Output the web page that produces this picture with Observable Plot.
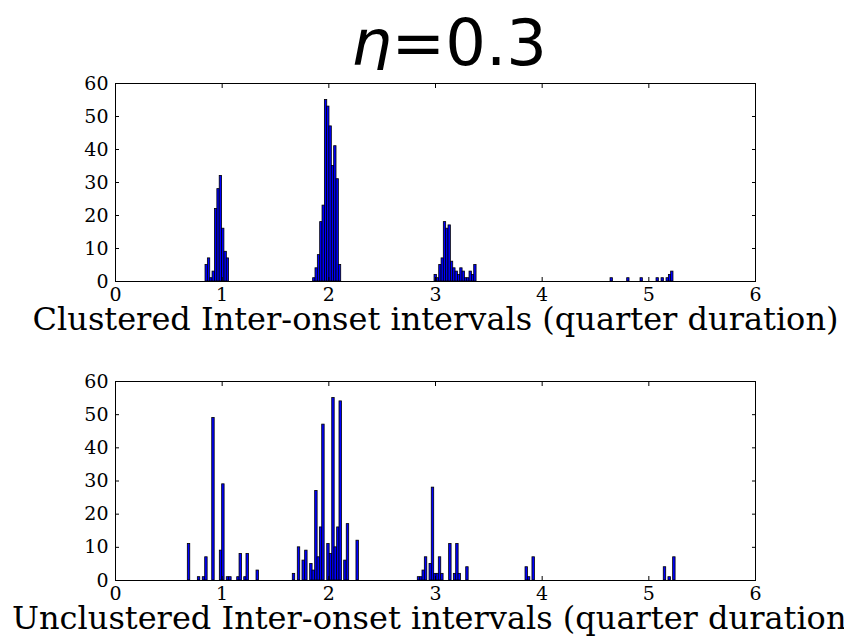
<!DOCTYPE html>
<html><head><meta charset="utf-8">
<script src="https://cdn.jsdelivr.net/npm/d3@7"></script>
<script src="https://cdn.jsdelivr.net/npm/@observablehq/plot@0.6"></script>
<style>
html,body{margin:0;padding:0;background:#fff;width:844px;height:636px;overflow:hidden;}
#wrap{position:relative;width:844px;height:636px;overflow:hidden;}
#title{position:absolute;left:351px;top:11px;font-family:"DejaVu Sans";font-size:64px;line-height:64px;white-space:nowrap;color:#000;}
#p1{position:absolute;left:0;top:70px;}
#p2{position:absolute;left:0;top:340px;}
</style>
</head><body>
<div id="wrap">
<div id="title"><i>η</i>=0.3</div>
<div id="p1"></div>
<div id="p2"></div>
</div>
<script>
// ---- data ----
const titleText = "η=0.3";
const topLabel = "Clustered Inter-onset intervals (quarter duration)";
const bottomLabel = "Unclustered Inter-onset intervals (quarter duration)";
const xTicks = [0, 1, 2, 3, 4, 5, 6];
const yTicks = [0, 10, 20, 30, 40, 50, 60];

const topBinWidth = 0.0220;
const topStarts = [
  0.844, 0.866, 0.888, 0.910, 0.933, 0.955, 0.977, 0.999, 1.022, 1.043,
  1.853, 1.875, 1.897, 1.919, 1.941, 1.963, 1.984, 2.006, 2.028, 2.050, 2.072, 2.094,
  2.991, 3.013, 3.035, 3.057, 3.078, 3.100, 3.122, 3.144, 3.166, 3.188, 3.210, 3.232, 3.254, 3.275, 3.297, 3.319, 3.341, 3.363,
  4.641, 4.797, 4.922, 5.072, 5.119, 5.166, 5.188, 5.209
];
const topCounts = [
  5, 7, 1, 3, 22, 28, 32, 16, 9, 7,
  1, 4, 8, 18, 23, 55, 53, 47, 35, 41, 31, 5,
  2, 1, 5, 7, 18, 16, 17, 6, 4, 3, 2, 4, 3, 1, 1, 3, 2, 5,
  1, 1, 1, 1, 1, 1, 2, 3
];

const bottomBinWidth = 0.0228;
const bottomStarts = [
  0.678, 0.772, 0.818, 0.841, 0.907, 0.978, 1.000, 1.043, 1.066, 1.141, 1.163, 1.207, 1.228, 1.322,
  1.662, 1.709, 1.753, 1.778, 1.825, 1.847, 1.872, 1.894, 1.916, 1.938, 1.985, 2.009, 2.032, 2.053, 2.078, 2.100, 2.144, 2.168, 2.259,
  2.834, 2.857, 2.878, 2.900, 2.944, 2.965, 2.988, 3.009, 3.031, 3.053, 3.128, 3.172, 3.194, 3.216, 3.288,
  3.844, 3.866, 3.909,
  5.140, 5.184, 5.228
];
const bottomCounts = [
  11, 1, 1, 7, 49, 9, 29, 1, 1, 1, 8, 1, 8, 3,
  2, 10, 6, 9, 5, 3, 27, 7, 16, 47, 11, 8, 55, 10, 16, 54, 6, 17, 12,
  1, 1, 3, 7, 5, 28, 2, 2, 7, 2, 11, 2, 11, 2, 4,
  4, 1, 7,
  4, 1, 7
];

const barFill = "#0000ff";
const serif = "'DejaVu Serif', serif";

function makeBars(starts, counts, w) {
  return starts.map((s, i) => ({x1: s, x2: s + w, count: counts[i]}));
}

function histPlot(bars, label, opts) {
  return Plot.plot({
    width: 844,
    height: opts.height,
    marginLeft: 115,
    marginRight: 89,
    marginTop: opts.marginTop,
    marginBottom: opts.marginBottom,
    style: {fontFamily: serif, background: "white", color: "black", overflow: "visible"},
    x: {domain: [0, 6]},
    y: {domain: [0, 60]},
    marks: [
      Plot.rect(bars, {x1: "x1", x2: "x2", y1: 0, y2: "count", fill: barFill, stroke: "black", strokeWidth: 0.8}),
      Plot.axisX({anchor: "bottom", ticks: xTicks, tickSize: -4, tickPadding: 10, fontSize: 19, label: null, tickFormat: d => String(d)}),
      Plot.axisX({anchor: "top", ticks: xTicks, tickSize: -4, tickFormat: () => "", label: null}),
      Plot.axisY({anchor: "left", ticks: yTicks, tickSize: -4, tickPadding: 11, fontSize: 19, label: null, tickFormat: d => String(d)}),
      Plot.axisY({anchor: "right", ticks: yTicks, tickSize: -4, tickFormat: () => "", label: null}),
      Plot.frame({stroke: "black", strokeWidth: 1}),
      Plot.text([label], {frameAnchor: "bottom", dy: opts.labelDy, fontSize: 32, fontFamily: serif, fill: "black", text: d => d})
    ]
  });
}

document.getElementById("p1").appendChild(
  histPlot(makeBars(topStarts, topCounts, topBinWidth), topLabel, {height: 270, marginTop: 13, marginBottom: 59, labelDy: 48})
);
document.getElementById("p2").appendChild(
  histPlot(makeBars(bottomStarts, bottomCounts, bottomBinWidth), bottomLabel, {height: 296, marginTop: 41, marginBottom: 56, labelDy: 48})
);
</script>
</body></html>
